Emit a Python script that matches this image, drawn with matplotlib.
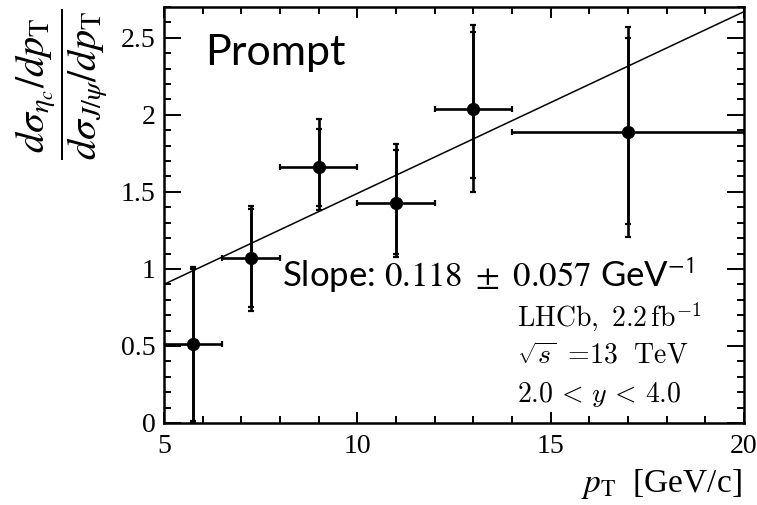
import numpy as np
import matplotlib
matplotlib.use("Agg")
import matplotlib.pyplot as plt
from matplotlib.ticker import MultipleLocator

plt.rcParams["mathtext.fontset"] = "stix"
plt.rcParams["font.family"] = ["Liberation Serif", "DejaVu Serif"]

# pT bins and ratio measurements
bin_lo = [5.0, 6.5, 8.0, 10.0, 12.0, 14.0]
bin_hi = [6.5, 8.0, 10.0, 12.0, 14.0, 20.0]
pt_center = [5.75, 7.25, 9.0, 11.0, 13.0, 17.0]
ratio = [0.51, 1.07, 1.66, 1.43, 2.04, 1.89]
stat_up = [0.49, 0.32, 0.25, 0.34, 0.50, 0.61]
stat_dn = [0.50, 0.32, 0.25, 0.33, 0.45, 0.60]
tot_up = [0.50, 0.34, 0.31, 0.38, 0.54, 0.68]
tot_dn = [0.51, 0.34, 0.28, 0.35, 0.54, 0.68]

# linear fit
fit_slope = 0.118
fit_intercept = 0.31
fit_range = [5.0, 20.0]

fig = plt.figure(figsize=(7.57, 5.05), dpi=100)
ax = fig.add_axes([164 / 757, 1 - 423 / 505, (744 - 164) / 757, (423 - 7) / 505])

x = np.array(pt_center)
y = np.array(ratio)
xerr = np.array([x - np.array(bin_lo), np.array(bin_hi) - x])

xf = np.array(fit_range)
ax.plot(xf, fit_intercept + fit_slope * xf, color="black", lw=1.1, zorder=2)

ax.errorbar(x, y, xerr=xerr, yerr=[tot_dn, tot_up], fmt="o", color="black",
            ms=8.5, elinewidth=1.9, capsize=2.4, capthick=1.6, zorder=3)
ax.errorbar(x, y, yerr=[stat_dn, stat_up], fmt="none", ecolor="black",
            elinewidth=1.9, capsize=2.4, capthick=1.6, zorder=3)

ax.set_xlim(5, 20)
ax.set_ylim(0, 2.7)
ax.xaxis.set_minor_locator(MultipleLocator(1))
ax.yaxis.set_minor_locator(MultipleLocator(0.1))
ax.set_yticks([0, 0.5, 1, 1.5, 2, 2.5])
ax.set_yticklabels(["0", "0.5", "1", "1.5", "2", "2.5"])
ax.set_xticks([5, 10, 15, 20])
ax.set_xticklabels(["5", "10", "15", "20"])

for s in ax.spines.values():
    s.set_linewidth(1.8)
ax.tick_params(which="both", direction="in", top=True, right=True, labelsize=20,
               width=1.4)
ax.tick_params(axis="y", which="major", length=12, pad=6)
ax.tick_params(axis="y", which="minor", length=5)
ax.tick_params(axis="x", which="major", length=8, pad=8)
ax.tick_params(axis="x", which="minor", length=5)

fig.text(62 / 757, 1 - 84 / 505,
         r"$\dfrac{d\sigma_{\eta_c}/dp_{\rm T}}{d\sigma_{J/\psi}/dp_{\rm T}}$",
         rotation=90, ha="center", va="center", fontsize=29)
fig.text(742 / 757, 1 - 492 / 505, r"$p_{\rm T}$  [GeV/c]", ha="right",
         va="baseline", fontsize=24)

fig.text(205 / 757, 1 - 65 / 505, "Prompt", fontfamily="Lato", fontsize=31,
         va="baseline", ha="left")
fig.text(282 / 757, 1 - 287 / 505,
         r"Slope: $0.118\ \pm\ 0.057$ GeV$^{\mathsf{-1}}$",
         fontfamily="Lato", fontsize=25, va="baseline", ha="left")

info = [r"$\mathrm{LHCb,\ 2.2\,fb^{-1}}$",
        r"$\sqrt{s}\ =\!13\ \ \mathrm{TeV}$",
        r"$2.0\, <\, y\, <\, 4.0$"]
baselines = [327, 363, 402]
for txt, b in zip(info, baselines):
    fig.text(517 / 757, 1 - b / 505, txt, math_fontfamily="cm", fontsize=20,
             va="baseline", ha="left")

fig.savefig("out.png", dpi=100)
